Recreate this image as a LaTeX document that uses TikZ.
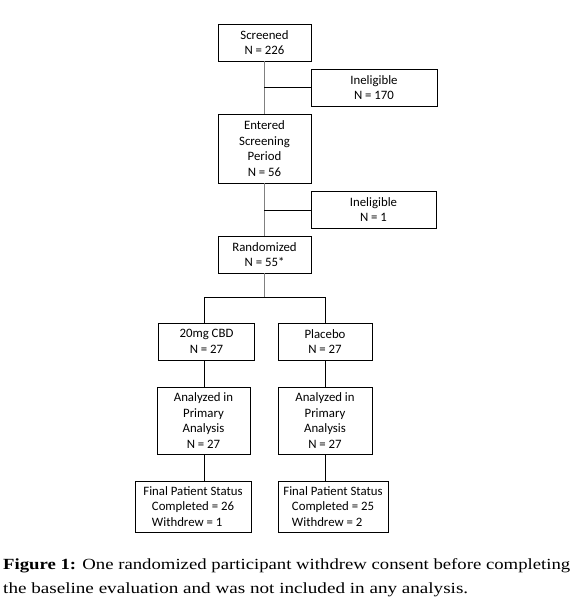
\documentclass[tikz,border=0pt]{standalone}
\usepackage{fontspec}
\usepackage{graphicx}
\usepackage{calc}
\setmainfont{Carlito}
\newfontfamily\capfont{Liberation Serif}
\definecolor{trunkgray}{HTML}{808080}
\begin{document}
\begin{tikzpicture}[x=1pt,y=-1pt,
  box/.style={draw=black,line width=0.9pt,align=center,inner sep=0pt,
    font=\fontsize{12.8}{15.6}\selectfont},
  trunk/.style={draw=trunkgray,line width=1pt},
  conn/.style={draw=black,line width=1pt},
  captxt/.style={anchor=base west,inner sep=0pt,font=\capfont\fontsize{15.5}{18}\selectfont}]
\useasboundingbox (0,0) rectangle (581,604);
% boxes
\node[box,minimum width=93pt,minimum height=37pt] (scr) at (264.5,42.5) {Screened\\N = 226};
\node[box,minimum width=126pt,minimum height=37pt] (in1) at (374,87.5) {Ineligible\\N = 170};
\node[box,minimum width=93pt,minimum height=69pt] (ent) at (264.5,148.5) {Entered\\Screening\\Period\\N = 56};
\node[box,minimum width=125pt,minimum height=37pt] (in2) at (373.5,209.5) {Ineligible\\N = 1};
\node[box,minimum width=93pt,minimum height=37pt] (ran) at (264.5,254.5) {Randomized\\N = 55*};
\node[box,minimum width=96pt,minimum height=37pt] (cbd) at (206.5,341.5) {20mg CBD\\N = 27};
\node[box,minimum width=94pt,minimum height=37pt] (pla) at (325,341.5) {Placebo\\N = 27};
\node[box,minimum width=93pt,minimum height=67pt] (anl) at (203.5,420.5) {Analyzed in\\Primary\\Analysis\\N = 27};
\node[box,minimum width=94pt,minimum height=67pt] (anr) at (325,420.5) {Analyzed in\\Primary\\Analysis\\N = 27};
\node[box,minimum width=116pt,minimum height=51pt] (fil) at (193,506.5)
  {Final Patient Status\\\makebox[\widthof{Completed = 26}][l]{Completed = 26}\\\makebox[\widthof{Completed = 26}][l]{Withdrew = 1}};
\node[box,minimum width=110pt,minimum height=51pt] (fir) at (333,506.5)
  {Final Patient Status\\\makebox[\widthof{Completed = 25}][l]{Completed = 25}\\\makebox[\widthof{Completed = 25}][l]{Withdrew = 2}};
% junction coordinates
\coordinate (tx) at (264,0);
\coordinate (j1) at (264,88);
\coordinate (j2) at (264,210);
\coordinate (br) at (264,297);
\coordinate (bl) at (204,297);
\coordinate (brr) at (325,297);
% connectors
\draw[trunk] (scr.south -| tx) -- (ent.north -| tx);
\draw[trunk] (ent.south -| tx) -- (ran.north -| tx);
\draw[trunk] (ran.south -| tx) -- (br);
\draw[conn] (j1) -- (in1.west |- j1);
\draw[conn] (j2) -- (in2.west |- j2);
\draw[conn] (bl) -- (brr);
\draw[conn] (bl) -- (cbd.north -| bl);
\draw[conn] (brr) -- (pla.north -| brr);
\draw[conn] (cbd.south -| bl) -- (anl.north -| bl);
\draw[conn] (pla.south -| brr) -- (anr.north -| brr);
\draw[conn] (anl.south -| bl) -- (fil.north -| bl);
\draw[conn] (anr.south -| brr) -- (fir.north -| brr);
% caption
\node[captxt] (cap1) at (3,569) {\resizebox{567pt}{\height}{\textbf{Figure 1:} One randomized participant withdrew consent before completing}};
\node[captxt] (cap2) at (3,593) {\resizebox{465pt}{\height}{the baseline evaluation and was not included in any analysis.}};
\end{tikzpicture}
\end{document}
